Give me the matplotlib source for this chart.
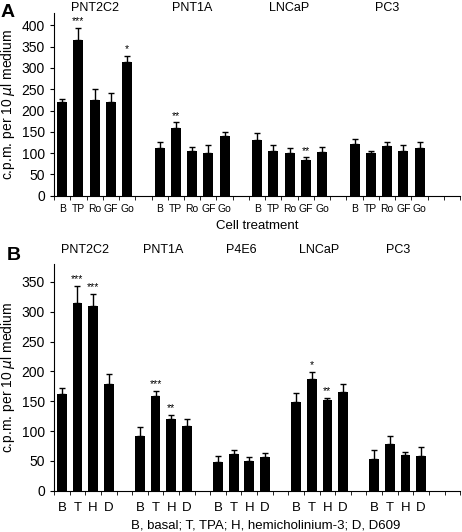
import matplotlib.pyplot as plt
import numpy as np

plt.rcParams['font.family'] = ['Liberation Sans', 'DejaVu Sans']

# panel A data
cells_a = ["PNT2C2", "PNT1A", "LNCaP", "PC3"]
treat_a = ["B", "TP", "Ro", "GF", "Go"]
vals_a = [[220, 366, 224, 220, 313],
          [112, 160, 106, 100, 140],
          [131, 105, 100, 83, 103],
          [122, 101, 117, 105, 113]]
err_a = [[8, 27, 26, 20, 14],
         [15, 12, 8, 18, 10],
         [16, 15, 11, 7, 12],
         [11, 5, 10, 13, 13]]
stars_a = [["", "***", "", "", "*"],
           ["", "**", "", "", ""],
           ["", "", "", "**", ""],
           ["", "", "", "", ""]]

# panel B data
cells_b = ["PNT2C2", "PNT1A", "P4E6", "LNCaP", "PC3"]
treat_b = ["B", "T", "H", "D"]
vals_b = [[162, 314, 310, 179],
          [92, 158, 120, 108],
          [48, 61, 50, 56],
          [148, 187, 152, 165],
          [54, 79, 60, 59]]
err_b = [[10, 29, 20, 17],
         [15, 9, 7, 12],
         [10, 8, 7, 8],
         [16, 12, 3, 14],
         [14, 12, 5, 15]]
stars_b = [["", "***", "***", ""],
           ["", "***", "**", ""],
           ["", "", "", ""],
           ["", "*", "**", ""],
           ["", "", "", ""]]

fig = plt.figure(figsize=(4.62, 5.32), dpi=100)


def panel(ax, cells, treats, vals, errs, stars, ymax, title_y, yticks,
          tick_fs, tick_pad, xlabel, xlab_pos):
    n = len(treats)
    period = n + 1
    pos, labels = [], []
    for g in range(len(cells)):
        x = g * period + np.arange(n)
        ax.bar(x, vals[g], width=0.62, color='black', zorder=2)
        ax.errorbar(x, vals[g], yerr=[np.zeros(n), errs[g]], fmt='none',
                    ecolor='black', elinewidth=1, capsize=2.5, capthick=1)
        for i in range(n):
            if stars[g][i]:
                ax.text(x[i], vals[g][i] + errs[g][i] + ymax * 0.01, stars[g][i],
                        ha='center', va='bottom', fontsize=7.5)
        ax.text(g * period + (n - 1) / 2, title_y, cells[g],
                ha='center', va='baseline', fontsize=9, clip_on=False)
        pos += list(x)
        labels += treats
    total = len(cells) * period + 1
    ax.set_xlim(-0.5, total - 0.5)
    ax.set_ylim(0, ymax)
    ax.set_yticks(yticks)
    ax.set_xticks(pos)
    ax.set_xticklabels(labels, fontsize=tick_fs)
    ax.set_xticks(np.arange(-0.5, total, 1.0), minor=True)
    ax.tick_params(axis='x', which='major', length=0, pad=tick_pad)
    ax.tick_params(axis='x', which='minor', length=3, direction='out')
    ax.tick_params(axis='y', labelsize=10, length=3, direction='out')
    for s in ['top', 'right']:
        ax.spines[s].set_visible(False)
    ax.set_ylabel(r"c.p.m. per 10 $\mu$l medium", fontsize=10, labelpad=3)
    ax.set_xlabel(xlabel, fontsize=9.5)
    ax.xaxis.set_label_coords(*xlab_pos)


ax1 = fig.add_axes([0.117, 0.632, 0.879, 0.343])
panel(ax1, cells_a, treat_a, vals_a, err_a, stars_a, 428, 433,
      np.arange(0, 401, 50), 7.5, 6, "Cell treatment", (0.5, -0.135))

ax2 = fig.add_axes([0.117, 0.0776, 0.879, 0.426])
panel(ax2, cells_b, treat_b, vals_b, err_b, stars_b, 380, 398,
      np.arange(0, 351, 50), 9.5, 8,
      "B, basal; T, TPA; H, hemicholinium-3; D, D609", (0.52, -0.125))

fig.text(0.002, 0.993, "A", fontsize=14, fontweight='bold', va='top')
fig.text(0.014, 0.535, "B", fontsize=14, fontweight='bold', va='top')

fig.savefig("out.png", dpi=100)
